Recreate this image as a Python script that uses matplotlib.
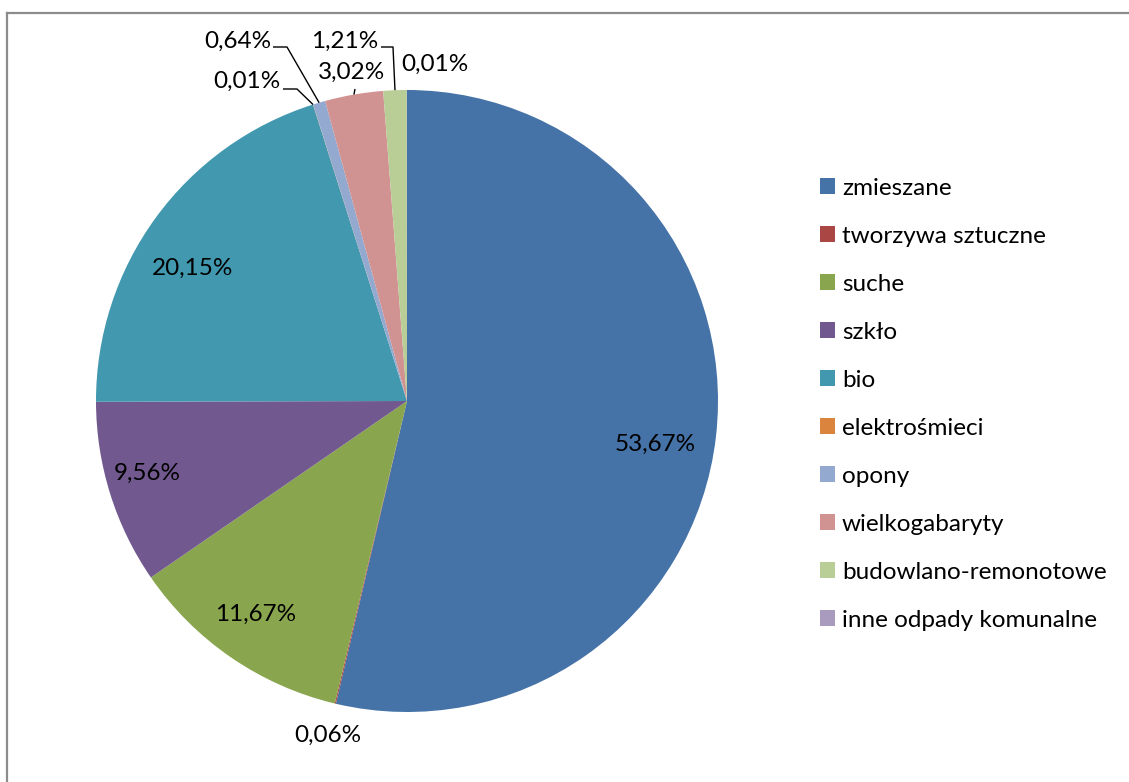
import matplotlib.pyplot as plt
import numpy as np
from matplotlib.lines import Line2D

# Dane
categories = ['zmieszane', 'tworzywa sztuczne', 'suche', 'szkło', 'bio',
              'elektrośmieci', 'opony', 'wielkogabaryty',
              'budowlano-remonotowe', 'inne odpady komunalne']
shares = [53.67, 0.06, 11.67, 9.56, 20.15, 0.01, 0.64, 3.02, 1.21, 0.01]
colors = ['#4572A7', '#AA4643', '#89A54E', '#71588F', '#4198AF',
          '#DB843D', '#93A9CF', '#D19392', '#B9CD96', '#A99BBD']

# pozycje etykiet (piksele obrazu, od lewej/góry)
label_xy = [(655, 444), (328, 735), (256, 614), (147, 473), (193, 268),
            (247, 81), (238, 41), (352, 72), (345, 41), (435, 64)]
# linie odniesienia: punkt startowy i załamanie (piksele), koniec na krawędzi wycinka
leaders = {5: [(283, 89), (297, 89)],
           6: [(273, 47), (287, 47)],
           7: [(355, 89), (355, 89)],
           8: [(381, 47), (393, 47)]}

plt.rcParams['font.family'] = ['Lato', 'DejaVu Sans']

W, H = 1129, 782
fig = plt.figure(figsize=(W / 100, H / 100), dpi=100)
ax = fig.add_axes([0, 0, 1, 1])

cx, cy, R = 407, 401, 311


def px(x, y):
    return x, H - y


wedges, _ = ax.pie(shares, colors=colors, startangle=90, counterclock=False,
                   center=px(cx, cy), radius=R,
                   wedgeprops=dict(linewidth=0))
ax.set_xlim(0, W)
ax.set_ylim(0, H)
ax.set_aspect('auto')
ax.axis('off')

# etykiety procentowe
for i, v in enumerate(shares):
    txt = f'{v:.2f}'.replace('.', ',') + '%'
    ax.text(*px(*label_xy[i]), txt, fontsize=17.5, ha='center', va='center',
            color='black')

# linie odniesienia
for i, pts in leaders.items():
    w = wedges[i]
    mid = np.deg2rad((w.theta1 + w.theta2) / 2)
    ex, ey = cx + R * np.cos(mid), cy - R * np.sin(mid)
    xs = [p[0] for p in pts] + [ex]
    ys = [H - p[1] for p in pts] + [H - ey]
    ax.plot(xs, ys, color='black', linewidth=1.0, solid_capstyle='butt')

# legenda
ax.legend(wedges, categories, loc='upper left',
          bbox_to_anchor=(810 / W, 1 - 168 / H), frameon=False,
          fontsize=17.5, handlelength=0.62, handleheight=0.62,
          handletextpad=0.3, labelspacing=1.11, borderaxespad=0)

# ramka
ax.add_line(Line2D([7, W], [H - 13, H - 13], color='#8c8c8c', linewidth=1.6))
ax.add_line(Line2D([7, 7], [H - 13, 0], color='#8c8c8c', linewidth=1.6))

fig.savefig('out.png', dpi=100)
